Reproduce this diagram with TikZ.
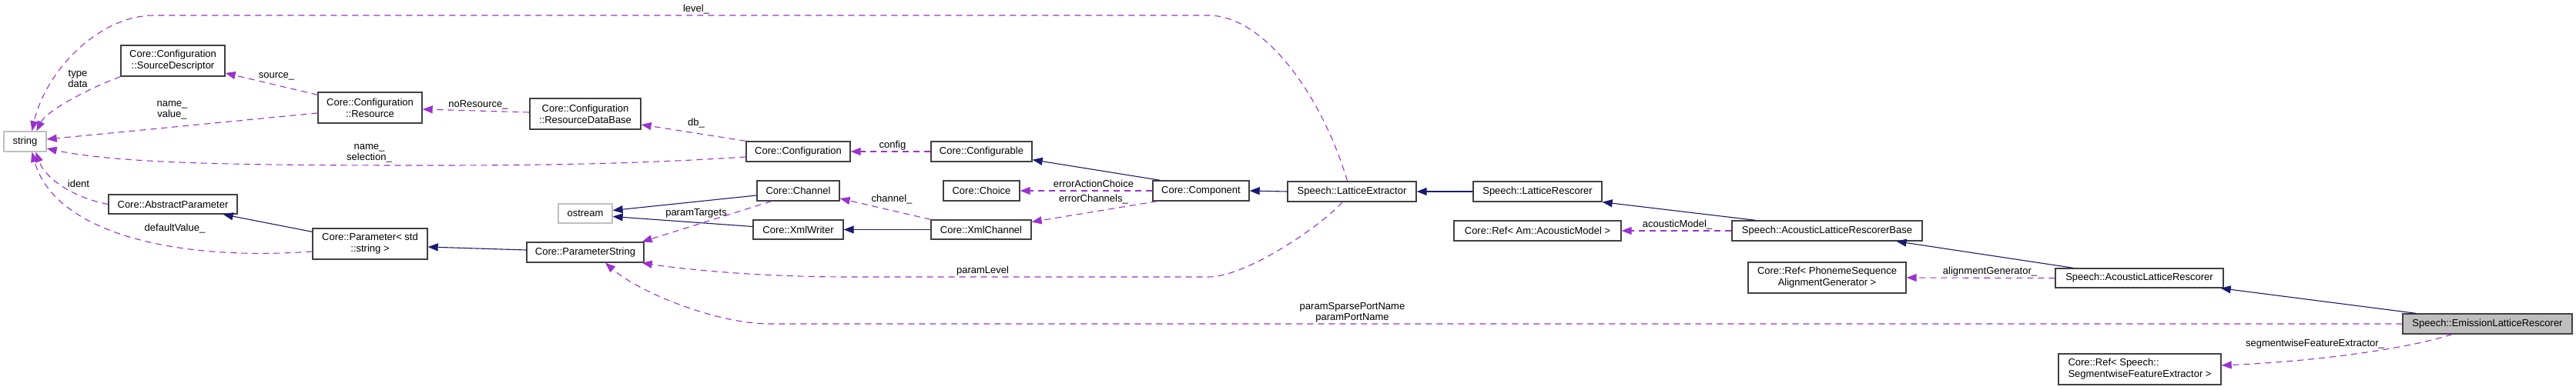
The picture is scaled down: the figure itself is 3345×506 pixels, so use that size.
\documentclass[tikz,border=0pt]{standalone}
\usepackage{fontspec}
\setmainfont{Liberation Sans}
\usetikzlibrary{arrows.meta,calc}
\definecolor{inhc}{HTML}{191970}
\definecolor{usec}{HTML}{9A32CD}
\definecolor{bord}{HTML}{404040}
\definecolor{grayb}{HTML}{BFBFBF}
\begin{document}
\begin{tikzpicture}[x=1pt,y=-1pt,
  cls/.style={draw=bord,line width=1.4pt,fill=white,font=\fontsize{13}{15}\selectfont,align=center,inner sep=0pt,minimum height=26pt},
  extcls/.style={cls,draw=grayb},
  inh/.style={draw=inhc,line width=1.1pt,-{Triangle[length=13pt,width=10pt]}},
  usedep/.style={draw=usec,line width=1.1pt,dash pattern=on 8pt off 6pt,-{Triangle[length=13pt,width=10pt]}},
  lbl/.style={font=\fontsize{13}{14}\selectfont,align=center,inner sep=0pt,text=black}
]
\useasboundingbox (0,0) rectangle (3345,506);
% nodes
\node[extcls,minimum width=55pt] (string) at (32.5,184) {string};
\node[cls,minimum width=135pt,minimum height=40pt] (SD) at (224.5,79) {Core::Configuration\\::SourceDescriptor};
\node[cls,minimum width=135pt,minimum height=40pt] (Res) at (480.5,140) {Core::Configuration\\::Resource};
\node[cls,minimum width=167pt,minimum height=25pt] (AbsP) at (224.5,265.5) {Core::AbstractParameter};
\node[cls,minimum width=149pt,minimum height=40pt] (Par) at (480.5,317) {Core::Parameter< std\\::string >};
\node[cls,minimum width=144pt,minimum height=40pt] (RDB) at (760,148) {Core::Configuration\\::ResourceDataBase};
\node[cls,minimum width=135pt] (Conf) at (1036.5,197) {Core::Configuration};
\node[cls,minimum width=107pt] (Chan) at (1036.5,248) {Core::Channel};
\node[extcls,minimum width=70pt,minimum height=25pt] (ostream) at (760,277.5) {ostream};
\node[cls,minimum width=117pt,minimum height=25pt] (XmlW) at (1036.5,298.5) {Core::XmlWriter};
\node[cls,minimum width=152pt] (PS) at (760,328) {Core::ParameterString};
\node[cls,minimum width=131pt] (Cfgb) at (1274.5,197) {Core::Configurable};
\node[cls,minimum width=99pt] (Choice) at (1274.5,248) {Core::Choice};
\node[cls,minimum width=130pt,minimum height=25pt] (XmlC) at (1274,298.5) {Core::XmlChannel};
\node[cls,minimum width=125pt] (Comp) at (1559.5,248) {Core::Component};
\node[cls,minimum width=167pt] (LE) at (1755.5,249) {Speech::LatticeExtractor};
\node[cls,minimum width=167pt] (LR) at (1996.5,249) {Speech::LatticeRescorer};
\node[cls,minimum width=217pt] (RefAM) at (1996.5,300) {Core::Ref< Am::AcousticModel >};
\node[cls,minimum width=247pt] (ALRB) at (2372.5,300) {Speech::AcousticLatticeRescorerBase};
\node[cls,minimum width=205pt,minimum height=40pt] (RefPh) at (2372.5,361) {Core::Ref< PhonemeSequence\\AlignmentGenerator >};
\node[cls,minimum width=218pt,minimum height=25pt] (ALR) at (2778,361.5) {Speech::AcousticLatticeRescorer};
\node[cls,minimum width=211pt,minimum height=40pt,align=left] (RefSeg) at (2778.5,480) {Core::Ref< Speech::\\SegmentwiseFeatureExtractor >};
\node[cls,fill=grayb,minimum width=220pt] (Emis) at (3230,421) {Speech::EmissionLatticeRescorer};
% waypoints
\coordinate (lv1) at (1569,20);
\coordinate (lv2) at (200,20);
\coordinate (ns1) at (540,215);
\coordinate (pl1) at (1569,360);
\coordinate (pl2) at (1100,360);
\coordinate (ps1) at (1000,421);
% inheritance
\draw[inh] ($(Par.north west)+(0,5)$) -- ($(AbsP.south east)+(-19,0)$);
\draw[inh] ($(PS.west)+(0,-3)$) -- ($(Par.east)+(0,4)$);
\draw[inh] ($(Chan.west)+(0,6)$) -- ($(ostream.east)+(0,-4)$);
\draw[inh] ($(XmlW.west)+(0,-4)$) -- ($(ostream.east)+(0,4)$);
\draw[inh] (XmlC.west) -- (XmlW.east);
\draw[inh] ($(Comp.north west)+(10,0)$) -- ($(Cfgb.south east)+(0,-3)$);
\draw[inh] (LE.west) -- (Comp.east);
\draw[inh] (LR.west) -- (LE.east);
\draw[inh] ($(ALRB.north)+(-93,0)$) -- (LR.south east);
\draw[inh] ($(ALR.north)+(-86,0)$) -- ($(ALRB.south)+(90,0)$);
\draw[inh] ($(Emis.north)+(-93,0)$) -- ($(ALR.south east)+(-4,0)$);
% usage
\draw[usedep] ($(LE.north)+(-6,0)$) .. controls (1715,120) and (1640,20) .. (lv1) -- (lv2) .. controls (130,20) and (60,90) .. ($(string.north)+(9,0)$);
\draw[usedep] (SD.south west) .. controls (110,117) and (60,145) .. ($(string.north)+(15,0)$);
\draw[usedep] ($(Res.west)+(0,7)$) -- ($(string.east)+(0,-3)$);
\draw[usedep] ($(Conf.west)+(0,7)$) .. controls (800,215) and (650,215) .. (ns1) .. controls (300,215) and (150,212) .. ($(string.east)+(0,9)$);
\draw[usedep] (AbsP.west) .. controls (100,258) and (60,235) .. ($(string.south)+(14,0)$);
\draw[usedep] ($(Par.west)+(0,10)$) .. controls (220,340) and (70,300) .. ($(string.south)+(9,0)$);
\draw[usedep] ($(Res.north west)+(0,4)$) -- ($(SD.east)+(0,16)$);
\draw[usedep] ($(RDB.west)+(0,-2)$) -- ($(Res.east)+(0,2)$);
\draw[usedep] (Conf.north west) -- ($(RDB.east)+(0,14)$);
\draw[usedep] (Cfgb.west) -- (Conf.east);
\draw[usedep] (Comp.west) -- (Choice.east);
\draw[usedep] ($(Comp.south west)+(6,0)$) -- ($(XmlC.east)+(0,-10)$);
\draw[usedep] (XmlC.north west) -- ($(Chan.east)+(0,10)$);
\draw[usedep] ($(Chan.south)+(-35,0)$) -- ($(PS.north east)+(-3,0)$);
\draw[usedep] ($(LE.south)+(-12.5,0)$) .. controls (1720,290) and (1620,360) .. (pl1) -- (pl2) .. controls (1000,360) and (900,352) .. ($(PS.south east)+(-3,0)$);
\draw[usedep] (Emis.west) -- (ps1) .. controls (930,421) and (830,380) .. ($(PS.south)+(26,0)$);
\draw[usedep] (ALRB.west) -- (RefAM.east);
\draw[usedep] (ALR.west) -- (RefPh.east);
\draw[usedep] ($(Emis.south)+(-46,0)$) .. controls (3120,455) and (3000,470) .. ($(RefSeg.east)+(0,-5)$);
% labels
\node[lbl] (l1) at (904,12) {level\_};
\node[lbl] (l2) at (101,102) {type\\data};
\node[lbl] (l3) at (359,99) {source\_};
\node[lbl] (l4) at (223.5,143.5) {name\_\\value\_};
\node[lbl] (l5) at (479.5,199.5) {name\_\\selection\_};
\node[lbl] (l6) at (102,239) {ident};
\node[lbl] (l7) at (227,297) {defaultValue\_};
\node[lbl] (l8) at (621,136) {noResource\_};
\node[lbl] (l9) at (904,160) {db\_};
\node[lbl] (l10) at (904,277) {paramTargets};
\node[lbl] (l11) at (1159,189) {config};
\node[lbl] (l12) at (1420,239) {errorActionChoice};
\node[lbl] (l13) at (1420,259) {errorChannels\_};
\node[lbl] (l14) at (1158,259) {channel\_};
\node[lbl] (l15) at (1276,352) {paramLevel};
\node[lbl] (l16) at (1756,406) {paramSparsePortName\\paramPortName};
\node[lbl] (l17) at (2178,292) {acousticModel\_};
\node[lbl] (l18) at (2584,353) {alignmentGenerator\_};
\node[lbl] (l19) at (3006,447) {segmentwiseFeatureExtractor\_};
\end{tikzpicture}
\end{document}
